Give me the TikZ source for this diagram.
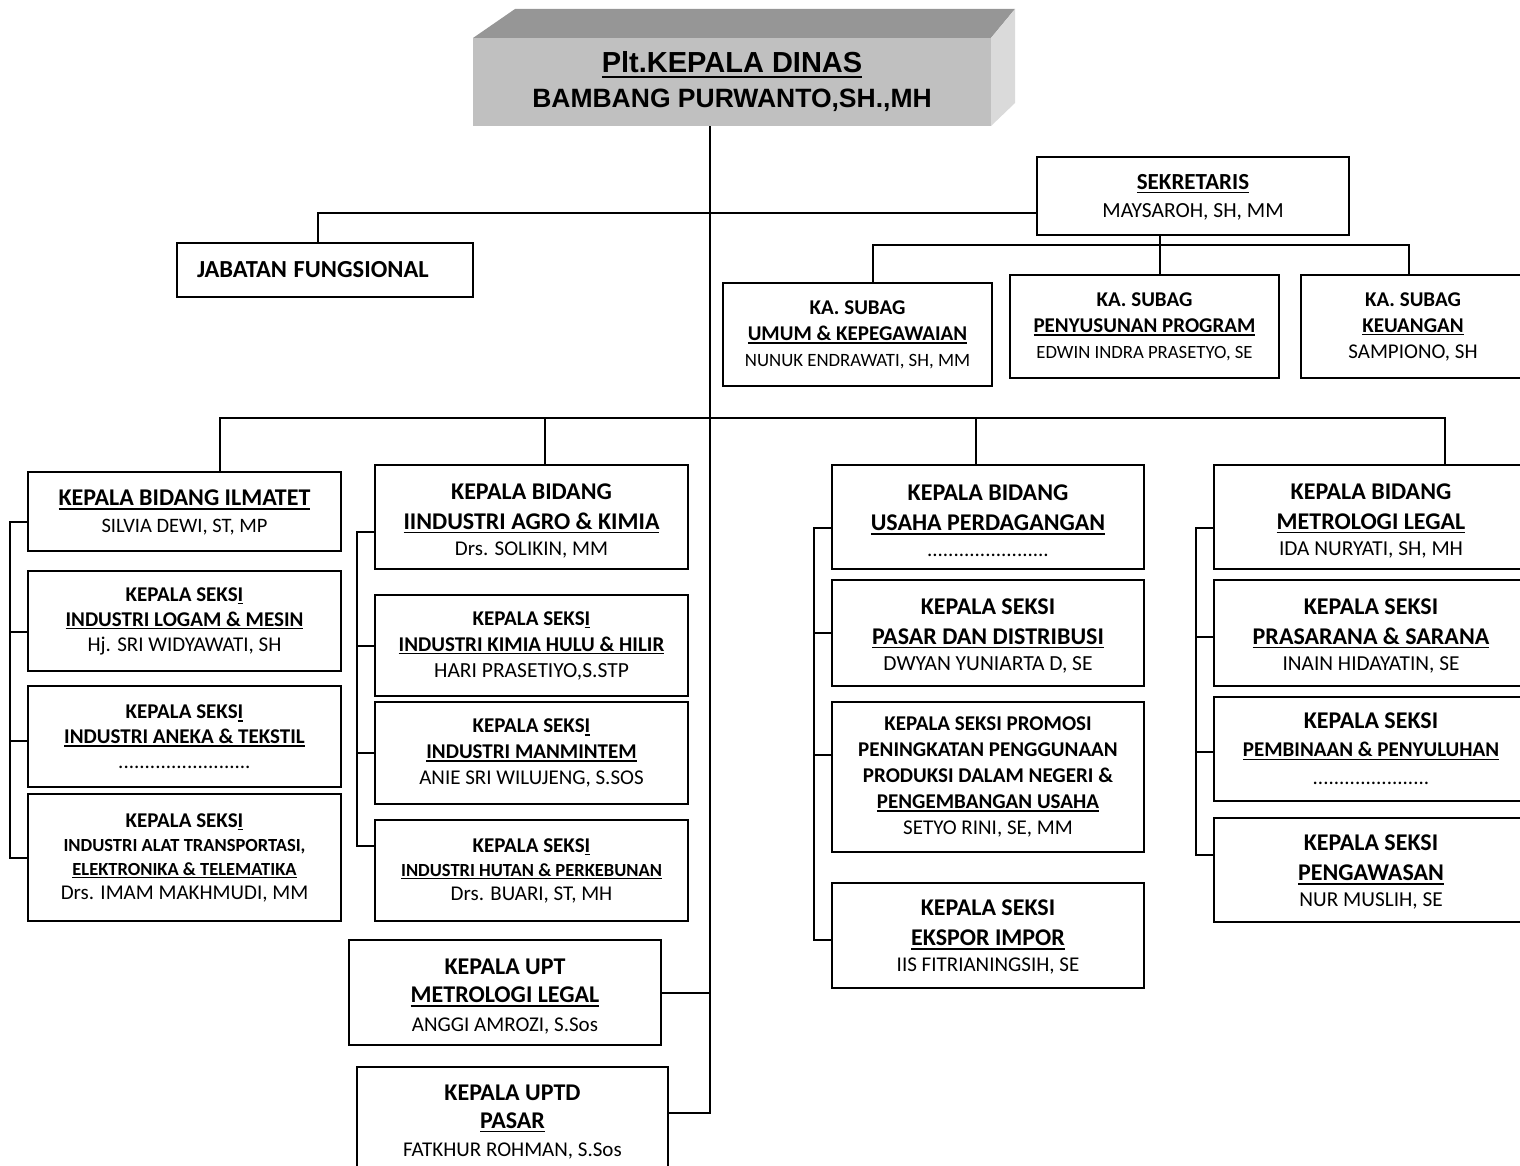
\documentclass[tikz,border=0pt]{standalone}
\usepackage{fontspec}
\setmainfont{Carlito}
\newfontfamily\arialfont{Liberation Sans}

\definecolor{facegray}{HTML}{C0C0C0}
\definecolor{topgray}{HTML}{969696}
\definecolor{sidegray}{HTML}{DADADA}

% underline, one line of a box: size, text; strut to push a block down
\newcommand\udl[1]{\setbox0\hbox{#1}\rlap{\rule[-0.16em]{\wd0}{0.07em}}\box0}
\newcommand\hb[2]{{\fontsize{#1}{#1}\selectfont\bfseries #2}}
\newcommand\nm[2]{{\fontsize{#1}{#1}\selectfont #2}}
\newcommand\sr[1]{\rule{0pt}{#1pt}}

\tikzset{
  unit/.style={draw, line width=2pt, fill=white, align=center, inner sep=0pt,
    font=\fontsize{20}{25}\selectfont},
  wh/.style 2 args={minimum width=#1pt, minimum height=#2pt},
  link/.style={line width=2pt},
}

\begin{document}
\begin{tikzpicture}[x=1pt,y=-1pt]
\useasboundingbox (0,0) rectangle (1520,1166);
\clip (0,0) rectangle (1520,1166);
% ---------- kepala dinas ----------
\fill[topgray] (473,38) -- (515,9) -- (1015,9) -- (991,38) -- cycle;
\fill[sidegray] (991,38) -- (1015,9) -- (1015,103) -- (991,126) -- cycle;
\node[fill=facegray, wh={518}{88}, inner sep=0pt, align=center,
  font=\arialfont\bfseries\fontsize{27}{35}\selectfont] (kadis) at (732,82)
  {{\fontsize{29}{29}\selectfont\udl{Plt.KEPALA DINAS}}\\
   {\fontsize{26.5}{26.5}\selectfont BAMBANG PURWANTO,SH.,MH}};
% ---------- sekretariat ----------
\node[unit, wh={312}{78}, font=\fontsize{21}{28}\selectfont] (sek) at (1193,196)
  {\hb{23}{\sr{18}\udl{SEKRETARIS}}\\ \nm{21.5}{MAYSAROH, SH, MM}};
\node[unit, wh={296}{54}, text width=256pt, align=left] (jab) at (325,270)
  {\hb{24.5}{JABATAN FUNGSIONAL}};
\node[unit, wh={269}{103}, font=\fontsize{20}{26}\selectfont] (umum) at (857.5,334.5)
  {\hb{21}{KA. SUBAG}\\ \hb{21}{\udl{UMUM \& KEPEGAWAIAN}}\\ \nm{18.8}{NUNUK ENDRAWATI, SH, MM}};
\node[unit, wh={269}{103}, font=\fontsize{20}{26}\selectfont] (pen) at (1144.5,326.5)
  {\hb{21}{KA. SUBAG}\\ \hb{21}{\udl{PENYUSUNAN PROGRAM}}\\ \nm{18.7}{EDWIN INDRA PRASETYO, SE}};
\node[unit, wh={224}{103}, font=\fontsize{20}{26}\selectfont] (keu) at (1413,326.5)
  {\hb{21}{KA. SUBAG}\\ \hb{21}{\udl{KEUANGAN}}\\ \nm{21}{SAMPIONO, SH}};
% ---------- bidang ilmatet ----------
\node[unit, wh={313}{79}, font=\fontsize{20}{27}\selectfont] (ilmatet) at (184.5,511.5)
  {\hb{24}{\sr{18}\udl{KEPALA BIDANG ILMATET}}\\ \nm{20.5}{SILVIA DEWI, ST, MP}};
\node[unit, wh={313}{100}] (logam) at (184.5,621)
  {\hb{21}{KEPALA SEKS\udl{I}}\\ \hb{21}{\udl{INDUSTRI LOGAM \& MESIN}}\\ \nm{21}{Hj. SRI WIDYAWATI, SH}};
\node[unit, wh={313}{101}] (aneka) at (184.5,736.5)
  {\hb{21}{KEPALA SEKS\udl{I}}\\ \hb{21}{\udl{INDUSTRI ANEKA \& TEKSTIL}}\\ \nm{21}{.........................}};
\node[unit, wh={313}{127}, font=\fontsize{20}{24}\selectfont] (transp) at (184.5,857.5)
  {\hb{21}{KEPALA SEKS\udl{I}}\\ \hb{18.5}{INDUSTRI ALAT TRANSPORTASI,}\\
   \hb{18.5}{\udl{ELEKTRONIKA \& TELEMATIKA}}\\ \nm{21}{Drs. IMAM MAKHMUDI, MM}};
% ---------- bidang agro & kimia ----------
\node[unit, wh={313}{104}, font=\fontsize{20}{26}\selectfont] (agro) at (531.5,517)
  {\hb{24}{\sr{23.5}KEPALA BIDANG}\\[4pt] \hb{24}{\udl{IINDUSTRI AGRO \& KIMIA}}\\ \nm{21}{Drs. SOLIKIN, MM}};
\node[unit, wh={313}{101}, font=\fontsize{20}{26}\selectfont] (kimia) at (531.5,645.5)
  {\hb{21}{KEPALA SEKS\udl{I}}\\ \hb{21}{\udl{INDUSTRI KIMIA HULU \& HILIR}}\\ \nm{21.5}{HARI PRASETIYO,S.STP}};
\node[unit, wh={313}{102}, font=\fontsize{20}{26}\selectfont] (manm) at (531.5,753)
  {\hb{21}{KEPALA SEKS\udl{I}}\\ \hb{21}{\udl{INDUSTRI MANMINTEM}}\\ \nm{21}{ANIE SRI WILUJENG, S.SOS}};
\node[unit, wh={313}{101}, font=\fontsize{20}{24}\selectfont] (hutan) at (531.5,870.5)
  {\hb{21}{KEPALA SEKS\udl{I}}\\ \hb{18.5}{\udl{INDUSTRI HUTAN \& PERKEBUNAN}}\\ \nm{21}{Drs. BUARI, ST, MH}};
% ---------- upt / uptd ----------
\node[unit, wh={312}{105}, font=\fontsize{20}{28.5}\selectfont] (upt) at (505,992.5)
  {\hb{24}{\sr{23}KEPALA UPT}\\ \hb{24}{\udl{METROLOGI LEGAL}}\\ \nm{21}{ANGGI AMROZI, S.Sos}};
\node[unit, wh={311}{110}, font=\fontsize{20}{28}\selectfont] (uptd) at (512.5,1122)
  {\hb{24}{KEPALA UPTD}\\ \hb{24}{\udl{PASAR}}\\ \nm{21}{FATKHUR ROHMAN, S.Sos}};
% ---------- bidang usaha perdagangan ----------
\node[unit, wh={312}{104}, font=\fontsize{20}{26}\selectfont] (usaha) at (988,517)
  {\hb{24}{\sr{23.5}KEPALA BIDANG}\\[4pt] \hb{24}{\udl{USAHA PERDAGANGAN}}\\ \nm{21}{.......................}};
\node[unit, wh={312}{106}, font=\fontsize{20}{26}\selectfont] (pasar) at (988,633)
  {\hb{24}{\sr{21.5}KEPALA SEKSI}\\[4pt] \hb{24}{\udl{PASAR DAN DISTRIBUSI}}\\ \nm{21.5}{DWYAN YUNIARTA D, SE}};
\node[unit, wh={312}{150}, font=\fontsize{20}{26}\selectfont] (promosi) at (988,777)
  {\hb{21}{KEPALA SEKSI PROMOSI}\\ \hb{21}{PENINGKATAN PENGGUNAAN}\\ \hb{21}{PRODUKSI DALAM NEGERI \&}\\
   \hb{21}{\udl{PENGEMBANGAN USAHA}}\\ \nm{21}{SETYO RINI, SE, MM}};
\node[unit, wh={312}{105}, font=\fontsize{20}{26}\selectfont] (ekspor) at (988,935.5)
  {\hb{24}{\sr{19.5}KEPALA SEKSI}\\[4pt] \hb{24}{\udl{EKSPOR IMPOR}}\\ \nm{21}{IIS FITRIANINGSIH, SE}};
% ---------- bidang metrologi legal ----------
\node[unit, wh={314}{104}, font=\fontsize{20}{26}\selectfont] (metro) at (1371,517)
  {\hb{24}{\sr{23.5}KEPALA BIDANG}\\[4pt] \hb{24}{\udl{METROLOGI LEGAL}}\\ \nm{21.3}{IDA NURYATI, SH, MH}};
\node[unit, wh={314}{106}, font=\fontsize{20}{26}\selectfont] (prasarana) at (1371,633)
  {\hb{24}{\sr{21.5}KEPALA SEKSI}\\[4pt] \hb{24}{\udl{PRASARANA \& SARANA}}\\ \nm{21.3}{INAIN HIDAYATIN, SE}};
\node[unit, wh={314}{104}, font=\fontsize{20}{28}\selectfont] (pembinaan) at (1371,749)
  {\hb{24}{KEPALA SEKSI}\\ \hb{21}{\udl{PEMBINAAN \& PENYULUHAN}}\\ \nm{21}{......................}};
\node[unit, wh={314}{104}, font=\fontsize{20}{26}\selectfont] (pengawasan) at (1371,870)
  {\hb{24}{\sr{20.5}KEPALA SEKSI}\\[4pt] \hb{24}{\udl{PENGAWASAN}}\\ \nm{21.3}{NUR MUSLIH, SE}};
% ---------- connectors ----------
\coordinate (spx) at (710,0);
\coordinate (sbus) at (0,245);
\coordinate (bbus) at (0,418);
\coordinate (uptdin) at ([yshift=9pt]uptd.east);
\draw[link] (kadis.south -| spx) -- (uptdin -| spx) -- (uptdin);
\draw[link] (upt.east) -- (upt.east -| spx);
\draw[link] ([yshift=-17pt]sek.west) -| ([xshift=-7pt]jab.north);
% sekretariat
\draw[link] ([xshift=15.5pt]pen.north) -- ([xshift=15.5pt]pen.north |- sek.south);
\draw[link] ([xshift=15pt]umum.north) |- ([xshift=-4pt]keu.north |- sbus) -- ([xshift=-4pt]keu.north);
% bidang bus
\draw[link] ([xshift=35.5pt]ilmatet.north) |- ([xshift=74pt]metro.north |- bbus) -- ([xshift=74pt]metro.north);
\draw[link] ([xshift=13.5pt]agro.north) -- ([xshift=13.5pt]agro.north |- bbus);
\draw[link] ([xshift=-12pt]usaha.north) -- ([xshift=-12pt]usaha.north |- bbus);
% ilmatet column
\coordinate (lsp) at (10,0);
\draw[link] ([yshift=-10pt]ilmatet.west) -| (lsp |- transp.west) -- (transp.west);
\draw[link] ([yshift=-11pt]logam.west) -- ([yshift=-11pt]logam.west -| lsp);
\draw[link] ([yshift=-4pt]aneka.west) -- ([yshift=-4pt]aneka.west -| lsp);
% agro column
\coordinate (asp) at (357,0);
\coordinate (hutanin) at ([yshift=25pt]hutan.west);
\draw[link] ([yshift=-15pt]agro.west) -| (asp |- hutanin) -- (hutanin);
\draw[link] (kimia.west) -- (kimia.west -| asp);
\draw[link] (manm.west) -- (manm.west -| asp);
% usaha column
\coordinate (usp) at (814,0);
\coordinate (eksporin) at ([yshift=-4pt]ekspor.west);
\draw[link] ([yshift=-11pt]usaha.west) -| (usp |- eksporin) -- (eksporin);
\draw[link] (pasar.west) -- (pasar.west -| usp);
\draw[link] ([yshift=22pt]promosi.west) -- ([yshift=22pt]promosi.west -| usp);
% metrologi column
\coordinate (msp) at (1196,0);
\coordinate (pengin) at ([yshift=15pt]pengawasan.west);
\draw[link] ([yshift=-11pt]metro.west) -| (msp |- pengin) -- (pengin);
\draw[link] ([yshift=-4pt]prasarana.west) -- ([yshift=-4pt]prasarana.west -| msp);
\draw[link] ([yshift=-3pt]pembinaan.west) -- ([yshift=-3pt]pembinaan.west -| msp);
\end{tikzpicture}
\end{document}
